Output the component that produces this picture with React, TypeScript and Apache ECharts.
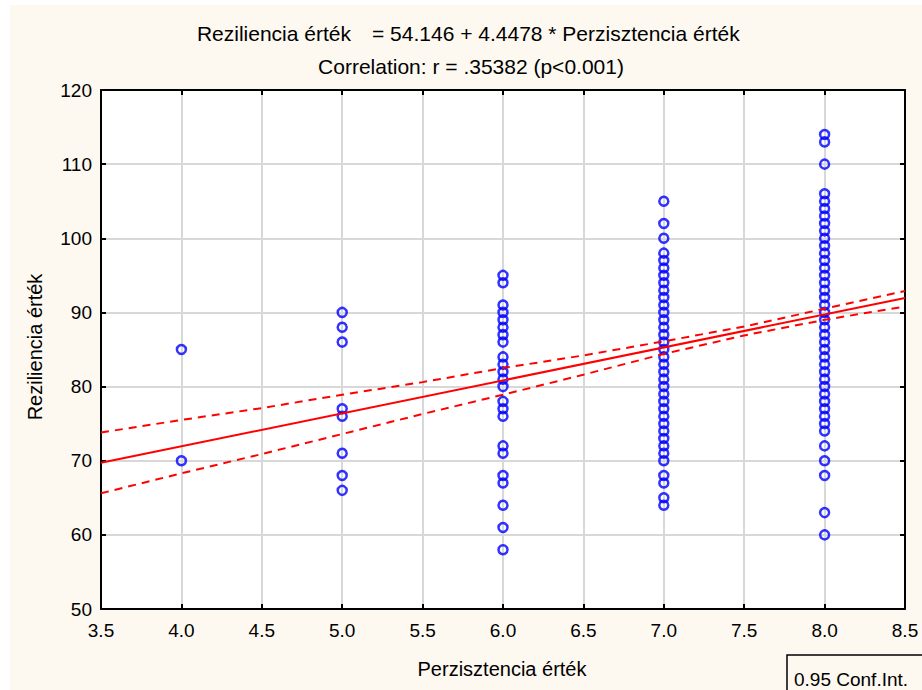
import React, { useEffect, useRef } from "react";
import * as echarts from "echarts";

// ---- data ----
const X_TICKS = [3.5, 4.0, 4.5, 5.0, 5.5, 6.0, 6.5, 7.0, 7.5, 8.0, 8.5];

const valuesAt4 = [85, 70];
const valuesAt5 = [90, 88, 86, 77, 76, 71, 68, 66];
const valuesAt6 = [95, 94, 91, 90, 89, 88, 87, 86, 84, 83, 82, 81, 80, 78, 77, 76, 72, 71, 68, 67, 64, 61, 58];
const valuesAt7 = [
  105, 102, 100, 98, 97, 96, 95, 94, 93, 92, 91, 90, 89, 88, 87, 86, 85, 84, 83, 82, 81, 80, 79, 78, 77,
  76, 75, 74, 73, 72, 71, 70, 68, 67, 65, 64,
];
const valuesAt8 = [
  114, 113, 110, 106, 105, 104, 103, 102, 101, 100, 99, 98, 97, 96, 95, 94, 93, 92, 91, 90, 89, 88, 87,
  86, 85, 84, 83, 82, 81, 80, 79, 78, 77, 76, 75, 74, 72, 70, 68, 63, 60,
];

const INTERCEPT = 54.146;
const SLOPE = 4.4478;

// 0.95 confidence band read at each x tick
const ciUpper = [73.8, 75.5, 77.1, 78.9, 80.6, 82.5, 84.2, 86.1, 88.1, 90.5, 92.9];
const ciLower = [65.6, 68.3, 70.9, 73.6, 76.3, 78.9, 81.6, 84.4, 86.9, 89.0, 90.8];

const TITLE_1A = "Reziliencia érték";
const TITLE_1B = "= 54.146 + 4.4478 * Perzisztencia érték";
const TITLE_2 = "Correlation: r = .35382 (p<0.001)";
const X_NAME = "Perzisztencia érték";
const Y_NAME = "Reziliencia érték";
const LEGEND_TEXT = "0.95 Conf.Int.";

const FONT = "'Liberation Sans', Arial, sans-serif";

export default function App() {
  const ref = useRef<HTMLDivElement>(null);

  useEffect(() => {
    document.body.style.margin = "0";
    if (!ref.current) return;
    const chart = echarts.init(ref.current, undefined, { renderer: "svg" });

    const points: number[][] = [];
    const groups: [number, number[]][] = [
      [4, valuesAt4],
      [5, valuesAt5],
      [6, valuesAt6],
      [7, valuesAt7],
      [8, valuesAt8],
    ];
    groups.forEach(([x, vals]) => vals.forEach((v) => points.push([x, v])));

    const xmin = X_TICKS[0];
    const xmax = X_TICKS[X_TICKS.length - 1];
    const fitLine = [
      [xmin, INTERCEPT + SLOPE * xmin],
      [xmax, INTERCEPT + SLOPE * xmax],
    ];
    const upper = X_TICKS.map((x, i) => [x, ciUpper[i]]);
    const lower = X_TICKS.map((x, i) => [x, ciLower[i]]);

    const axisLine = { show: true, onZero: false, lineStyle: { color: "#000", width: 2 } };
    const axisTick = { show: true, inside: true, length: 5, lineStyle: { color: "#000", width: 2 } };
    const splitLine = { show: true, lineStyle: { color: "#d8d8d8", width: 2 } };
    const labelStyle = { color: "#000", fontSize: 19, fontFamily: FONT };

    chart.setOption({
      animation: false,
      backgroundColor: "#fdf9f0",
      grid: {
        left: 91,
        top: 85,
        right: 17,
        bottom: 81,
        show: true,
        backgroundColor: "#ffffff",
        borderWidth: 0,
      },
      xAxis: [
        {
          type: "value",
          position: "bottom",
          min: 3.5,
          max: 8.5,
          interval: 0.5,
          axisLine,
          axisTick,
          splitLine,
          axisLabel: { ...labelStyle, margin: 12, formatter: (v: number) => v.toFixed(1) },
        },
        {
          type: "value",
          position: "top",
          min: 3.5,
          max: 8.5,
          interval: 0.5,
          axisLine,
          axisTick,
          splitLine: { show: false },
          axisLabel: { show: false },
        },
      ],
      yAxis: [
        {
          type: "value",
          position: "left",
          min: 50,
          max: 120,
          interval: 10,
          axisLine,
          axisTick,
          splitLine,
          axisLabel: { ...labelStyle, margin: 9 },
        },
        {
          type: "value",
          position: "right",
          min: 50,
          max: 120,
          interval: 10,
          axisLine,
          axisTick,
          splitLine: { show: false },
          axisLabel: { show: false },
        },
      ],
      series: [
        {
          type: "scatter",
          data: points,
          symbol: "circle",
          symbolSize: 9,
          itemStyle: { color: "rgba(0,0,0,0)", borderColor: "#0000ff", borderWidth: 2.5 },
          z: 2,
        },
        {
          type: "line",
          data: fitLine,
          showSymbol: false,
          symbol: "none",
          lineStyle: { color: "#ff0000", width: 2 },
          z: 3,
        },
        {
          type: "line",
          data: upper,
          showSymbol: false,
          symbol: "none",
          lineStyle: { color: "#ff0000", width: 2, type: [8, 6] },
          z: 3,
        },
        {
          type: "line",
          data: lower,
          showSymbol: false,
          symbol: "none",
          lineStyle: { color: "#ff0000", width: 2, type: [8, 6] },
          z: 3,
        },
      ],
      graphic: [
        {
          type: "text",
          x: 341,
          y: 28,
          style: { text: TITLE_1A, fill: "#000", font: `21px ${FONT}`, align: "right", verticalAlign: "middle" },
        },
        {
          type: "text",
          x: 362,
          y: 28,
          style: { text: TITLE_1B, fill: "#000", font: `21px ${FONT}`, align: "left", verticalAlign: "middle" },
        },
        {
          type: "text",
          x: 461,
          y: 61,
          style: { text: TITLE_2, fill: "#000", font: `21px ${FONT}`, align: "center", verticalAlign: "middle" },
        },
        {
          type: "text",
          x: 492,
          y: 664,
          style: { text: X_NAME, fill: "#000", font: `20px ${FONT}`, align: "center", verticalAlign: "middle" },
        },
        {
          type: "text",
          x: 25,
          y: 342,
          rotation: Math.PI / 2,
          style: { text: Y_NAME, fill: "#000", font: `20px ${FONT}`, align: "center", verticalAlign: "middle" },
        },
        {
          type: "rect",
          shape: { x: 777, y: 650, width: 150, height: 50 },
          style: { fill: "none", stroke: "#000", lineWidth: 1.5 },
        },
        {
          type: "text",
          x: 784,
          y: 674,
          style: { text: LEGEND_TEXT, fill: "#000", font: `19px ${FONT}`, align: "left", verticalAlign: "middle" },
        },
      ],
    });

    return () => chart.dispose();
  }, []);

  return (
    <div style={{ width: 922, height: 690, background: "#ffffff", position: "relative" }}>
      <div ref={ref} style={{ position: "absolute", left: 10, top: 5, width: 912, height: 685 }} />
    </div>
  );
}
